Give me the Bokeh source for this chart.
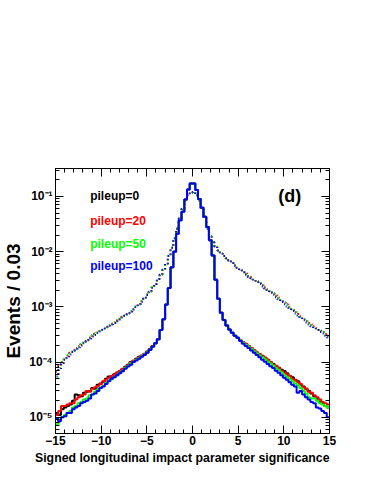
from bokeh.plotting import figure
from bokeh.models import (LinearAxis, LogAxis, CustomJSTickFormatter, Label, Title,
                          LogTicker, SingleIntervalTicker, Range1d)
from bokeh.embed import file_html
from bokeh.resources import INLINE

# ---------------- data ----------------
x_min, x_max = -15.0, 15.0
bin_width = 0.3
n_bins = 100

# narrow (solid) distributions: left tail bins 0-35, core bins 36-66, right tail bins 67-99
solid_core = [2.2e-4, 2.6e-4, 3.8e-4, 6.0e-4, 1.1e-3, 2.2e-3, 5.2e-3, 1.0e-2, 2.1e-2, 3.7e-2,
              5.3e-2, 8.8e-2, 1.34e-1, 1.72e-1, 1.72e-1, 1.3e-1, 9.0e-2, 6.2e-2, 4.3e-2, 2.8e-2,
              1.6e-2, 8.5e-3, 3.1e-3, 1.4e-3, 7.8e-4, 5.8e-4, 4.6e-4, 3.9e-4, 3.4e-4, 3.0e-4, 2.75e-4]

s0_left = [1.2e-5, 1.1e-5, 1.4e-5, 1.5e-5, 1.6e-5, 1.7e-5, 2.0e-5, 2.6e-5, 2.5e-5, 2.4e-5,
           2.8e-5, 2.9e-5, 3.0e-5, 3.4e-5, 3.3e-5, 3.9e-5, 4.1e-5, 4.4e-5, 5.0e-5, 5.5e-5,
           5.3e-5, 6.0e-5, 6.4e-5, 6.9e-5, 7.4e-5, 8.2e-5, 9.0e-5, 1.0e-4, 1.05e-4, 1.15e-4,
           1.25e-4, 1.3e-4, 1.4e-4, 1.55e-4, 1.72e-4, 1.95e-4]
s0_right = [2.5e-4, 2.3e-4, 2.1e-4, 1.95e-4, 1.8e-4, 1.6e-4, 1.5e-4, 1.38e-4, 1.3e-4, 1.2e-4,
            1.1e-4, 1.0e-4, 9.2e-5, 8.5e-5, 7.9e-5, 7.3e-5, 6.9e-5, 6.3e-5, 5.6e-5, 5.3e-5,
            4.8e-5, 4.5e-5, 3.9e-5, 3.6e-5, 3.3e-5, 3.0e-5, 2.7e-5, 2.4e-5, 2.2e-5, 1.9e-5,
            1.8e-5, 1.6e-5, 1.5e-5]

s20_left = [1.1e-5, 1.3e-5, 1.6e-5, 1.6e-5, 1.7e-5, 1.8e-5, 1.8e-5, 2.1e-5, 2.3e-5, 2.5e-5,
            2.6e-5, 3.0e-5, 2.9e-5, 3.3e-5, 3.5e-5, 3.7e-5, 4.0e-5, 4.5e-5, 4.8e-5, 5.2e-5,
            5.6e-5, 5.9e-5, 6.5e-5, 6.8e-5, 7.6e-5, 8.0e-5, 8.8e-5, 9.8e-5, 1.07e-4, 1.12e-4,
            1.22e-4, 1.32e-4, 1.42e-4, 1.52e-4, 1.7e-4, 1.93e-4]
s20_right = [2.5e-4, 2.3e-4, 2.15e-4, 1.95e-4, 1.8e-4, 1.65e-4, 1.5e-4, 1.4e-4, 1.28e-4, 1.2e-4,
             1.1e-4, 1.0e-4, 9.0e-5, 8.6e-5, 7.8e-5, 7.0e-5, 6.5e-5, 6.0e-5, 5.6e-5, 5.0e-5,
             4.7e-5, 4.3e-5, 4.0e-5, 3.5e-5, 3.3e-5, 2.9e-5, 2.8e-5, 2.5e-5, 2.3e-5, 2.1e-5,
             1.9e-5, 1.8e-5, 1.7e-5]

s50_left = [7.5e-6, 9.0e-6, 1.0e-5, 1.1e-5, 1.2e-5, 1.3e-5, 1.5e-5, 1.6e-5, 1.8e-5, 1.9e-5,
            2.1e-5, 2.2e-5, 2.5e-5, 2.6e-5, 2.9e-5, 3.2e-5, 3.5e-5, 3.7e-5, 4.2e-5, 4.6e-5,
            4.9e-5, 5.4e-5, 5.8e-5, 6.4e-5, 7.0e-5, 7.8e-5, 8.5e-5, 9.4e-5, 1.02e-4, 1.1e-4,
            1.18e-4, 1.28e-4, 1.38e-4, 1.5e-4, 1.68e-4, 1.9e-4]
s50_right = [2.45e-4, 2.25e-4, 2.05e-4, 1.9e-4, 1.72e-4, 1.58e-4, 1.45e-4, 1.32e-4, 1.22e-4, 1.13e-4,
             1.03e-4, 9.4e-5, 8.6e-5, 7.8e-5, 7.2e-5, 6.5e-5, 5.8e-5, 5.4e-5, 4.9e-5, 4.5e-5,
             4.1e-5, 3.8e-5, 3.4e-5, 3.0e-5, 2.7e-5, 2.3e-5, 2.2e-5, 2.2e-5, 2.0e-5, 1.8e-5,
             1.7e-5, 1.6e-5, 1.5e-5]

s100_left = [9.5e-6, 8.5e-6, 1.0e-5, 1.05e-5, 1.2e-5, 1.2e-5, 1.4e-5, 1.5e-5, 1.6e-5, 1.8e-5,
             1.9e-5, 2.0e-5, 2.2e-5, 2.6e-5, 2.7e-5, 3.0e-5, 3.4e-5, 3.6e-5, 4.0e-5, 4.5e-5,
             5.0e-5, 5.3e-5, 5.8e-5, 6.3e-5, 6.8e-5, 7.6e-5, 8.3e-5, 9.0e-5, 1.0e-4, 1.07e-4,
             1.15e-4, 1.25e-4, 1.35e-4, 1.48e-4, 1.65e-4, 1.9e-4]
s100_right = [2.4e-4, 2.15e-4, 1.95e-4, 1.8e-4, 1.62e-4, 1.48e-4, 1.35e-4, 1.22e-4, 1.1e-4, 1.02e-4,
              9.2e-5, 8.4e-5, 7.8e-5, 7.0e-5, 6.4e-5, 5.8e-5, 5.2e-5, 4.8e-5, 4.3e-5, 3.9e-5,
              3.6e-5, 2.8e-5, 3.0e-5, 2.6e-5, 2.3e-5, 2.1e-5, 1.9e-5, 1.8e-5, 1.5e-5, 1.45e-5,
              1.3e-5, 1.2e-5, 1.0e-5]

# wide (dotted) distributions
dotted_core = [2.6e-3, 3.2e-3, 3.8e-3, 4.7e-3, 6.0e-3, 8.3e-3, 1.17e-2, 1.74e-2, 2.6e-2, 4.0e-2,
               6.0e-2, 8.3e-2, 1.05e-1, 1.17e-1, 1.2e-1, 1.05e-1, 8.3e-2, 5.9e-2, 4.0e-2, 2.6e-2,
               1.9e-2, 1.48e-2, 1.23e-2, 1.05e-2, 9.3e-3, 8.3e-3, 7.6e-3, 6.9e-3, 6.2e-3, 5.6e-3, 5.1e-3]

d0_left = [6.6e-5, 8.3e-5, 1.0e-4, 1.17e-4, 1.32e-4, 1.45e-4, 1.58e-4, 1.74e-4, 1.9e-4, 2.1e-4,
           2.3e-4, 2.5e-4, 2.75e-4, 3.0e-4, 3.2e-4, 3.5e-4, 3.7e-4, 4.0e-4, 4.3e-4, 4.6e-4,
           4.9e-4, 5.2e-4, 5.6e-4, 6.0e-4, 6.5e-4, 7.1e-4, 7.6e-4, 8.3e-4, 9.1e-4, 1.0e-3,
           1.12e-3, 1.26e-3, 1.45e-3, 1.66e-3, 1.9e-3, 2.24e-3]
d0_right = [4.7e-3, 4.3e-3, 3.9e-3, 3.6e-3, 3.4e-3, 3.1e-3, 2.9e-3, 2.7e-3, 2.45e-3, 2.24e-3,
            2.04e-3, 1.9e-3, 1.74e-3, 1.58e-3, 1.45e-3, 1.32e-3, 1.2e-3, 1.1e-3, 9.8e-4, 8.9e-4,
            8.1e-4, 7.4e-4, 6.6e-4, 6.0e-4, 5.5e-4, 5.1e-4, 4.7e-4, 4.4e-4, 4.0e-4, 3.7e-4,
            3.5e-4, 3.2e-4, 2.95e-4]

d20_left = [6.0e-5, 8.8e-5, 9.5e-5, 1.2e-4, 1.28e-4, 1.5e-4, 1.55e-4, 1.8e-4, 1.95e-4, 2.05e-4,
            2.35e-4, 2.5e-4, 2.8e-4, 2.95e-4, 3.3e-4, 3.45e-4, 3.8e-4, 4.0e-4, 4.4e-4, 4.6e-4,
            5.0e-4, 5.2e-4, 5.7e-4, 6.0e-4, 6.6e-4, 7.0e-4, 7.8e-4, 8.3e-4, 9.2e-4, 1.0e-3,
            1.13e-3, 1.27e-3, 1.44e-3, 1.68e-3, 1.9e-3, 2.25e-3]
d20_right = [4.8e-3, 4.3e-3, 4.0e-3, 3.6e-3, 3.45e-3, 3.1e-3, 2.95e-3, 2.7e-3, 2.5e-3, 2.25e-3,
             2.08e-3, 1.9e-3, 1.78e-3, 1.6e-3, 1.48e-3, 1.32e-3, 1.23e-3, 1.1e-3, 1.0e-3, 8.9e-4,
             8.3e-4, 7.4e-4, 6.8e-4, 6.0e-4, 5.7e-4, 5.1e-4, 4.8e-4, 4.4e-4, 4.1e-4, 3.7e-4,
             3.6e-4, 3.2e-4, 3.0e-4]

d50_left = [5.2e-5, 7.8e-5, 1.02e-4, 1.12e-4, 1.35e-4, 1.42e-4, 1.6e-4, 1.7e-4, 1.92e-4, 2.1e-4,
            2.25e-4, 2.55e-4, 2.7e-4, 3.05e-4, 3.15e-4, 3.55e-4, 3.65e-4, 4.1e-4, 4.2e-4, 4.7e-4,
            4.8e-4, 5.3e-4, 5.5e-4, 6.1e-4, 6.4e-4, 7.2e-4, 7.5e-4, 8.4e-4, 9.0e-4, 1.02e-3,
            1.1e-3, 1.28e-3, 1.43e-3, 1.67e-3, 1.88e-3, 2.26e-3]
d50_right = [4.7e-3, 4.25e-3, 3.95e-3, 3.55e-3, 3.4e-3, 3.05e-3, 2.9e-3, 2.65e-3, 2.45e-3, 2.2e-3,
             2.05e-3, 1.86e-3, 1.75e-3, 1.55e-3, 1.45e-3, 1.3e-3, 1.2e-3, 1.08e-3, 9.8e-4, 8.7e-4,
             8.1e-4, 7.2e-4, 6.6e-4, 5.9e-4, 5.5e-4, 5.0e-4, 4.7e-4, 4.3e-4, 4.0e-4, 3.6e-4,
             3.5e-4, 3.1e-4, 2.95e-4]

d100_left = [5.5e-5, 7.2e-5, 9.2e-5, 1.1e-4, 1.25e-4, 1.38e-4, 1.52e-4, 1.68e-4, 1.85e-4, 2.0e-4,
             2.2e-4, 2.4e-4, 2.65e-4, 2.9e-4, 3.1e-4, 3.35e-4, 3.6e-4, 3.85e-4, 4.2e-4, 4.45e-4,
             4.8e-4, 5.1e-4, 5.5e-4, 5.9e-4, 6.4e-4, 6.9e-4, 7.5e-4, 8.2e-4, 9.0e-4, 9.9e-4,
             1.1e-3, 1.24e-3, 1.42e-3, 1.64e-3, 1.88e-3, 2.22e-3]
d100_right = [4.6e-3, 4.2e-3, 3.8e-3, 3.5e-3, 3.3e-3, 3.0e-3, 2.8e-3, 2.6e-3, 2.35e-3, 2.15e-3,
              1.96e-3, 1.8e-3, 1.65e-3, 1.5e-3, 1.36e-3, 1.22e-3, 1.12e-3, 1.02e-3, 9.2e-4, 8.4e-4,
              7.6e-4, 7.0e-4, 6.3e-4, 5.7e-4, 5.2e-4, 4.8e-4, 4.4e-4, 4.1e-4, 3.8e-4, 3.5e-4,
              3.3e-4, 3.0e-4, 2.8e-4]

series_names = ["pileup=0", "pileup=20", "pileup=50", "pileup=100"]
series_colors = ["#000000", "#ff0000", "#00ff00", "#0000ff"]
solid_series = [s0_left + solid_core + s0_right, s20_left + solid_core + s20_right,
                s50_left + solid_core + s50_right, s100_left + solid_core + s100_right]
dotted_series = [d0_left + dotted_core + d0_right, d20_left + dotted_core + d20_right,
                 d50_left + dotted_core + d50_right, d100_left + dotted_core + d100_right]
label_y = [0.101, 0.0357, 0.01397, 0.00542]
label_x = -11.2
panel_tag = "(d)"
panel_tag_x = 9.4

for s in solid_series + dotted_series:
    assert len(s) == n_bins, len(s)

edges = [x_min + i * bin_width for i in range(n_bins + 1)]

FONT = "Liberation Sans"

p = figure(width=366, height=476, x_range=Range1d(x_min, x_max), y_range=Range1d(5.1e-6, 0.32),
           y_axis_type="log", output_backend="svg", toolbar_location=None,
           min_border_left=52, min_border_right=37, min_border_top=168, min_border_bottom=43)
p.grid.visible = False
p.outline_line_color = "black"
p.outline_line_width = 1
p.background_fill_color = "white"
p.border_fill_color = "white"

# ---- histograms ----
for i, (vals, col) in enumerate(zip(dotted_series, series_colors)):
    p.step(edges, vals + [vals[-1]], mode="after", line_color=col, line_width=2,
           line_dash="1 3", line_dash_offset=i)
for vals, col in zip(solid_series, series_colors):
    p.step(edges, vals + [vals[-1]], mode="after", line_color=col, line_width=2)

# ---- axes ----
sup_code = """
const sup = {"-":"\u207b","0":"\u2070","1":"\u00b9","2":"\u00b2","3":"\u00b3","4":"\u2074","5":"\u2075","6":"\u2076","7":"\u2077","8":"\u2078","9":"\u2079"};
const e = Math.round(Math.log10(tick));
return "10" + String(e).split("").map(c => sup[c]).join("");
"""
xticker = SingleIntervalTicker(interval=5, num_minor_ticks=5)
yticker = LogTicker(num_minor_ticks=10)

xa = p.xaxis[0]
xa.ticker = xticker
ya = p.yaxis[0]
ya.ticker = yticker
ya.formatter = CustomJSTickFormatter(code=sup_code)

for ax in (xa, ya):
    ax.major_tick_in = 8
    ax.major_tick_out = 0
    ax.minor_tick_in = 4
    ax.minor_tick_out = 0
    ax.axis_line_color = "black"
    ax.major_tick_line_color = "black"
    ax.minor_tick_line_color = "black"
    ax.major_label_text_font = FONT
    ax.major_label_text_font_style = "bold"
    ax.major_label_text_color = "black"

xa.major_label_text_font_size = "12px"
xa.major_label_standoff = 2
ya.major_label_text_font_size = "12px"
ya.major_label_standoff = 3

ya.axis_label = "Events / 0.03"
ya.axis_label_text_font = FONT
ya.axis_label_text_font_style = "bold"
ya.axis_label_text_font_size = "19px"
ya.axis_label_text_color = "black"
ya.axis_label_standoff = 2

blank = CustomJSTickFormatter(code="return ''")
top = LinearAxis(ticker=xticker, formatter=blank, major_tick_in=8, major_tick_out=0,
                 minor_tick_in=4, minor_tick_out=0, major_label_standoff=0)
right = LogAxis(ticker=yticker, formatter=blank, major_tick_in=8, major_tick_out=0,
                minor_tick_in=4, minor_tick_out=0, major_label_standoff=0)
p.add_layout(top, "above")
p.add_layout(right, "right")

p.add_layout(Title(text="Signed longitudinal impact parameter significance", align="right",
                   text_font=FONT, text_font_style="bold", text_font_size="12.3px",
                   text_color="black", standoff=3, offset=0), "below")

# ---- texts ----
for name, col, yv in zip(series_names, series_colors, label_y):
    p.add_layout(Label(x=label_x, y=yv, text=name, text_color=col, text_font=FONT,
                       text_font_style="bold", text_font_size="12px",
                       text_baseline="middle", text_align="left"))
p.add_layout(Label(x=panel_tag_x, y=label_y[0], text=panel_tag, text_color="black",
                   text_font=FONT, text_font_style="bold", text_font_size="18px",
                   text_baseline="middle", text_align="left"))

open("out.html", "w").write(file_html(p, INLINE))
